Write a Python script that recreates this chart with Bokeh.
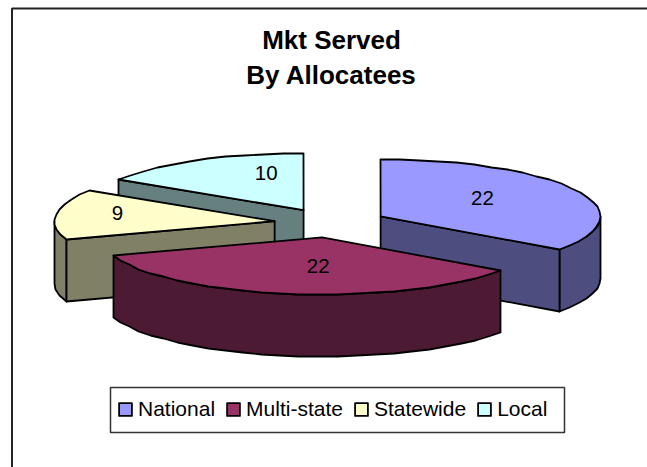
import numpy as np
from bokeh.embed import file_html
from bokeh.resources import INLINE
from bokeh.plotting import figure
from bokeh.models import Range1d, Legend, LegendItem
from bokeh.core.properties import value

title_lines = ["Mkt Served", "By Allocatees"]
categories = ["National", "Multi-state", "Statewide", "Local"]
values = [22, 22, 9, 10]
top_colors = ["#9999FF", "#993366", "#FFFFCC", "#CCFFFF"]
side_colors = ["#4D4D80", "#4D1A33", "#808066", "#668080"]

FONT = "Liberation Sans"
W, H = 647, 467
CX, CY = 330.0, 222.5      # pie centre, in page pixels
RX, RY = 220.0, 57.0       # ellipse radii of the tilted pie
DEPTH = 62.0               # height of the pie
EXPLODE = 56.3             # how far slices are pulled out, in x units
LABEL_X = [0.52, 0.12, 0.72, 0.355]   # label position, fraction of the radius
LABEL_Y = [0.69, 0.51, 1.10, 0.74]

p = figure(width=W, height=H, output_backend="svg", toolbar_location=None,
           x_range=Range1d(0, W), y_range=Range1d(H, 0),
           x_axis_type=None, y_axis_type=None, min_border=0,
           outline_line_color=None, background_fill_color="white",
           border_fill_color="white")
p.grid.visible = False

# chart area frame: top and left only
p.line([11.5, 11.5, W], [H, 8, 8], line_color="#222222", line_width=2)

total = sum(values)
edges = np.concatenate([[0], np.cumsum(values)]) / total * 2 * np.pi
mids = (edges[:-1] + edges[1:]) / 2
apex_x = CX + EXPLODE * np.sin(mids)
apex_y = CY - EXPLODE * (RY / RX) * np.cos(mids)


def arc(i, a0, a1):
    n = max(2, int(np.degrees(a1 - a0) / 5) + 1)
    t = np.linspace(a0, a1, n)
    return (np.round(apex_x[i] + RX * np.sin(t)),
            np.round(apex_y[i] - RY * np.cos(t)))


style = dict(line_color="black", line_width=1.8, line_join="round")


def side(i, xs, ys):
    xs, ys = list(xs), list(ys)
    p.patch(xs + xs[::-1], ys + [y + DEPTH for y in ys[::-1]],
            fill_color=side_colors[i], **style)


def draw(i):
    a0, a1 = edges[i], edges[i + 1]
    ax, ay = apex_x[i], apex_y[i]
    # front rim: the part of the arc on the viewer's side
    lo, hi = max(a0, np.pi / 2), min(a1, 3 * np.pi / 2)
    if hi > lo:
        side(i, *arc(i, lo, hi))
    # cut faces that turn toward the viewer
    if np.cos(a0 - np.pi / 2) < -1e-6:
        ex, ey = arc(i, a0, a0 + 1e-6)
        side(i, [ax, ex[0]], [ay, ey[0]])
    if np.cos(a1 + np.pi / 2) < -1e-6:
        ex, ey = arc(i, a1, a1 + 1e-6)
        side(i, [ax, ex[0]], [ay, ey[0]])
    xs, ys = arc(i, a0, a1)
    return p.patch([ax] + list(xs), [ay] + list(ys),
                   fill_color=top_colors[i], **style)


tops = {}
for i in (0, 3, 2, 1):     # painter's order, back to front
    tops[i] = draw(i)

# data labels
p.text(x=apex_x + np.array(LABEL_X) * RX * np.sin(mids),
       y=apex_y - np.array(LABEL_Y) * RY * np.cos(mids),
       text=[str(v) for v in values], text_font=value(FONT),
       text_font_size="20.5px", text_color="black",
       text_align="center", text_baseline="middle")

# title
p.text(x=[331, 331], y=[39, 74], text=title_lines, text_font=value(FONT),
       text_font_size="26px", text_font_style="bold", text_color="black",
       text_align="center", text_baseline="middle")

# legend box behind the native (borderless) legend
p.quad(left=[110], right=[564], top=[387], bottom=[432], fill_color="white",
       line_color="#333333", line_width=1.5)

legend = Legend(
    items=[LegendItem(label=c, renderers=[tops[i]]) for i, c in enumerate(categories)],
    orientation="horizontal", location=(117, 43), margin=0, padding=7,
    spacing=10, glyph_width=16, glyph_height=16, label_standoff=5, label_height=31,
    label_text_font=FONT, label_text_font_size="21px", label_text_color="black",
    border_line_color=None, background_fill_alpha=0)
p.add_layout(legend, "center")

open("out.html", "w").write(file_html(p, INLINE))
